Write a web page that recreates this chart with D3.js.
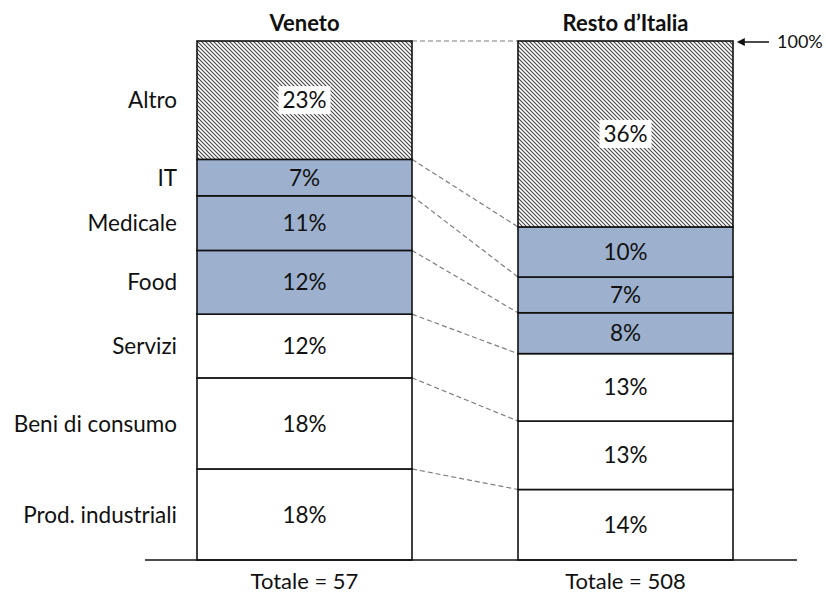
<!DOCTYPE html>
<html>
<head>
<meta charset="utf-8">
<script src="https://cdn.jsdelivr.net/npm/d3@7"></script>
<style>
  html, body { margin: 0; padding: 0; background: #fff; }
  svg { display: block; font-family: Lato, "Open Sans", sans-serif; }
</style>
</head>
<body>
<svg id="chart" width="826" height="595"></svg>
<script>
// ---- data ----
const groups = ["Veneto", "Resto d\u2019Italia"];
const categories = ["Prod. industriali", "Beni di consumo", "Servizi", "Food", "Medicale", "IT", "Altro"];
// company counts per category (bottom to top)
const venetoCounts = [10, 10, 7, 7, 6, 4, 13];
const restoCounts  = [69, 67, 66, 40, 35, 49, 182];
const totals = [57, 508];
const highlighted = ["Food", "Medicale", "IT"];
const hatched = ["Altro"];

const svg = d3.select("#chart");
const FS = 22.5;

// hatch pattern
const defs = svg.append("defs");
const pat = defs.append("pattern")
  .attr("id", "hatch").attr("patternUnits", "userSpaceOnUse")
  .attr("width", 4).attr("height", 4);
pat.append("rect").attr("width", 4).attr("height", 4).attr("fill", "#ffffff");
pat.append("path").attr("d", "M-1,-1 L5,5 M-1,3 L1,5 M3,-1 L5,1")
  .attr("stroke", "#444").attr("stroke-width", 1.1);

const y = d3.scaleLinear().domain([0, 1]).range([560, 41]);
const xc = d3.scalePoint().domain(groups).range([304.5, 625.5]);
const barW = 215;

const rows = categories.map((c, i) => ({ cat: c, Veneto: venetoCounts[i], "Resto d\u2019Italia": restoCounts[i] }));

// per-group normalized stacks
const stacks = groups.map(g => {
  const tot = d3.sum(rows, r => r[g]);
  let acc = 0;
  return rows.map(r => {
    const s = { cat: r.cat, group: g, y0: acc / tot, y1: (acc + r[g]) / tot, pct: Math.round(r[g] / tot * 100) };
    acc += r[g];
    return s;
  });
});

// connector dashed lines
const vx1 = xc(groups[0]) + barW / 2, rx0 = xc(groups[1]) - barW / 2;
svg.append("g").selectAll("line")
  .data(stacks[0].map((d, i) => ({ a: d.y1, b: stacks[1][i].y1 })))
  .join("line")
  .attr("x1", vx1).attr("x2", rx0)
  .attr("y1", d => y(d.a)).attr("y2", d => y(d.b))
  .attr("stroke", "#7f7f7f").attr("stroke-width", 1.2)
  .attr("stroke-dasharray", "5,3");

// bars
stacks.forEach(st => {
  const g = svg.append("g");
  g.selectAll("rect").data(st).join("rect")
    .attr("x", d => xc(d.group) - barW / 2)
    .attr("width", barW)
    .attr("y", d => y(d.y1))
    .attr("height", d => y(d.y0) - y(d.y1))
    .attr("fill", d => hatched.includes(d.cat) ? "url(#hatch)" : highlighted.includes(d.cat) ? "#9db1cf" : "#ffffff")
    .attr("stroke", "#111").attr("stroke-width", 1.6);

  const lab = g.selectAll("g.lab").data(st).join("g").attr("class", "lab")
    .attr("transform", d => `translate(${xc(d.group)},${(y(d.y0) + y(d.y1)) / 2})`);
  lab.filter(d => hatched.includes(d.cat)).append("rect")
    .attr("x", -26).attr("y", -14).attr("width", 52).attr("height", 28)
    .attr("fill", "#fff");
  lab.append("text")
    .attr("text-anchor", "middle").attr("dy", "0.36em")
    .attr("font-size", FS).attr("fill", "#111")
    .text(d => d.pct + "%");
});

// category labels (aligned with Veneto segments)
svg.append("g").selectAll("text").data(stacks[0]).join("text")
  .attr("x", 177).attr("y", d => (y(d.y0) + y(d.y1)) / 2)
  .attr("dy", "0.36em").attr("text-anchor", "end")
  .attr("font-size", FS).attr("fill", "#111")
  .text(d => d.cat);

// group titles
svg.append("g").selectAll("text").data(groups).join("text")
  .attr("x", d => xc(d)).attr("y", 31)
  .attr("text-anchor", "middle").attr("font-weight", "bold")
  .attr("font-size", 22).attr("fill", "#111")
  .text(d => d);

// totals
svg.append("g").selectAll("text").data(groups).join("text")
  .attr("x", d => xc(d)).attr("y", 589)
  .attr("text-anchor", "middle")
  .attr("font-size", 22).attr("fill", "#111")
  .text((d, i) => "Totale = " + totals[i]);

// baseline
svg.append("line")
  .attr("x1", 145).attr("x2", 797).attr("y1", y(0)).attr("y2", y(0))
  .attr("stroke", "#111").attr("stroke-width", 1.6);

// 100% marker
defs.append("marker").attr("id", "arr").attr("viewBox", "0 0 10 10")
  .attr("refX", 1).attr("refY", 5).attr("markerWidth", 10).attr("markerHeight", 8)
  .attr("markerUnits", "userSpaceOnUse")
  .attr("orient", "auto-start-reverse")
  .append("path").attr("d", "M0,0 L10,5 L0,10 z").attr("fill", "#111");
svg.append("line")
  .attr("x1", 744).attr("x2", 769).attr("y1", y(1) + 1).attr("y2", y(1) + 1)
  .attr("stroke", "#111").attr("stroke-width", 1.5)
  .attr("marker-start", "url(#arr)");
svg.append("text")
  .attr("x", 777).attr("y", y(1) + 1).attr("dy", "0.36em")
  .attr("font-size", 18).attr("fill", "#111")
  .text("100%");
</script>
</body>
</html>
